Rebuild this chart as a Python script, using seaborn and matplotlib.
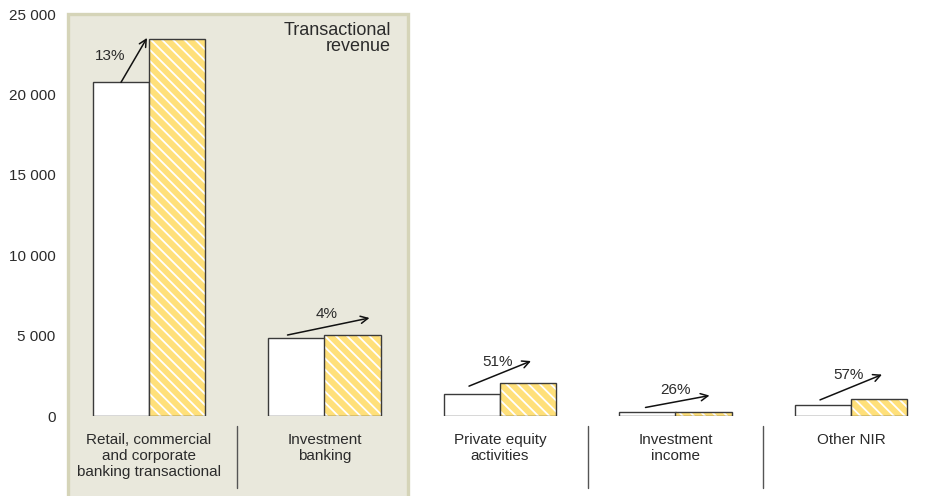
import matplotlib
matplotlib.use("Agg")
import matplotlib.pyplot as plt
from matplotlib.patches import Rectangle
from matplotlib.transforms import blended_transform_factory
import seaborn as sns
import pandas as pd

# Non-interest revenue by business line, two periods
categories = [
    "Retail, commercial\nand corporate\nbanking transactional",
    "Investment\nbanking",
    "Private equity\nactivities",
    "Investment\nincome",
    "Other NIR",
]
previous = [20750, 4850, 1360, 220, 690]
current = [23450, 5040, 2050, 277, 1083]
y_ticks = [0, 5000, 10000, 15000, 20000, 25000]
box_title = "Transactional\nrevenue"

df = pd.DataFrame({
    "category": categories * 2,
    "period": ["previous"] * len(categories) + ["current"] * len(categories),
    "value": previous + current,
})

sns.set_theme(style="white")
plt.rcParams["font.family"] = ["Liberation Sans", "DejaVu Sans"]
plt.rcParams["hatch.linewidth"] = 1.3

TEXT = "#2b2b2b"
YELLOW = "#FFE07A"
EDGE = "#3a3a3a"

fig = plt.figure(figsize=(9.28, 4.96), dpi=100)
W, H = 928, 496
ax = fig.add_axes([68 / W, (H - 416) / H, (925 - 68) / W, (416 - 14) / H])

# shaded panel grouping the transactional lines
panel = Rectangle((0, -1.0), (408 - 68) / (925 - 68), 2.0, transform=ax.transAxes,
                  facecolor="#E9E8DC", edgecolor="#D5D4B8", linewidth=2.4,
                  clip_on=False, zorder=0)
ax.add_patch(panel)
ax.set_facecolor("none")

sns.barplot(data=df, x="category", y="value", hue="period", order=categories,
            hue_order=["previous", "current"],
            palette={"previous": "white", "current": YELLOW}, saturation=1,
            width=0.64, gap=0, edgecolor=EDGE, linewidth=1.0,
            legend=False, ax=ax, zorder=2)

# white diagonal stripes on the current-period bars, with a dark outline on top
for p in list(ax.patches):
    if p is panel:
        continue
    fc = p.get_facecolor()
    if fc[2] < 0.8:  # yellow bars
        p.set_edgecolor("white")
        p.set_hatch("\\\\\\")
        p.set_linewidth(0)
        ax.add_patch(Rectangle(p.get_xy(), p.get_width(), p.get_height(),
                               fill=False, edgecolor=EDGE, linewidth=1.0, zorder=3))

ax.set_xlim(-(149 - 68) / 175.5, 4 + (925 - 851) / 175.5)
ax.set_ylim(0, 25000)
for s in ax.spines.values():
    s.set_visible(False)

ax.set_yticks(y_ticks)
ax.set_yticklabels([f"{v:,}".replace(",", " ") for v in y_ticks], fontsize=11, color=TEXT)
ax.set_xticks(range(len(categories)))
ax.set_xticklabels(categories, fontsize=11, color=TEXT, linespacing=1.2, va="top")
ax.tick_params(axis="y", length=0, pad=9)
ax.tick_params(axis="x", length=0, pad=12)
ax.set_xlabel("")
ax.set_ylabel("")

ax.text((391 - 68) / (925 - 68), 1 - (22 - 14) / 402, box_title,
        transform=ax.transAxes, ha="right", va="top", fontsize=13,
        linespacing=0.92, color=TEXT)

# separators between category labels
trans = blended_transform_factory(ax.transData, ax.transAxes)
for xs in [0.5, 2.5, 3.5]:
    ax.plot([xs, xs], [-(426 - 416) / 402, -(488 - 416) / 402], transform=trans,
            color="#555555", lw=1.0, clip_on=False)

fig.canvas.draw()


def shifted(x, y, dx_px, dy_px):
    px, py = ax.transData.transform((x, y))
    return ax.transData.inverted().transform((px + dx_px, py + dy_px))


# growth arrows: (start dx, start dy above previous bar, end dx, end dy above current bar) in pixels
arrow_geom = [(-28, 0, -2, 1), (-37, 3, 45, 17), (-31, 8, 31, 22), (-30, 5, 34, 16), (-31, 5, 31, 24)]
for i, (a, b) in enumerate(zip(previous, current)):
    sdx, sdy, edx, edy = arrow_geom[i]
    start = shifted(i, a, sdx, sdy)
    end = shifted(i, b, edx, edy)
    ax.annotate("", xy=end, xytext=start,
                arrowprops=dict(arrowstyle="->", color="#111111", lw=1.1,
                                shrinkA=0, shrinkB=0, mutation_scale=13),
                zorder=4, annotation_clip=False)
    growth = f"{round((b / a - 1) * 100)}%"
    mx, my = (start + end) / 2
    if i == 0:
        lx, ly = shifted(mx, my, -24, 4)
    else:
        lx, ly = shifted(mx, my, -2, 12)
    ax.text(lx, ly, growth, ha="center", va="center", fontsize=11, color=TEXT, zorder=5)

fig.savefig("out.png", dpi=100)
